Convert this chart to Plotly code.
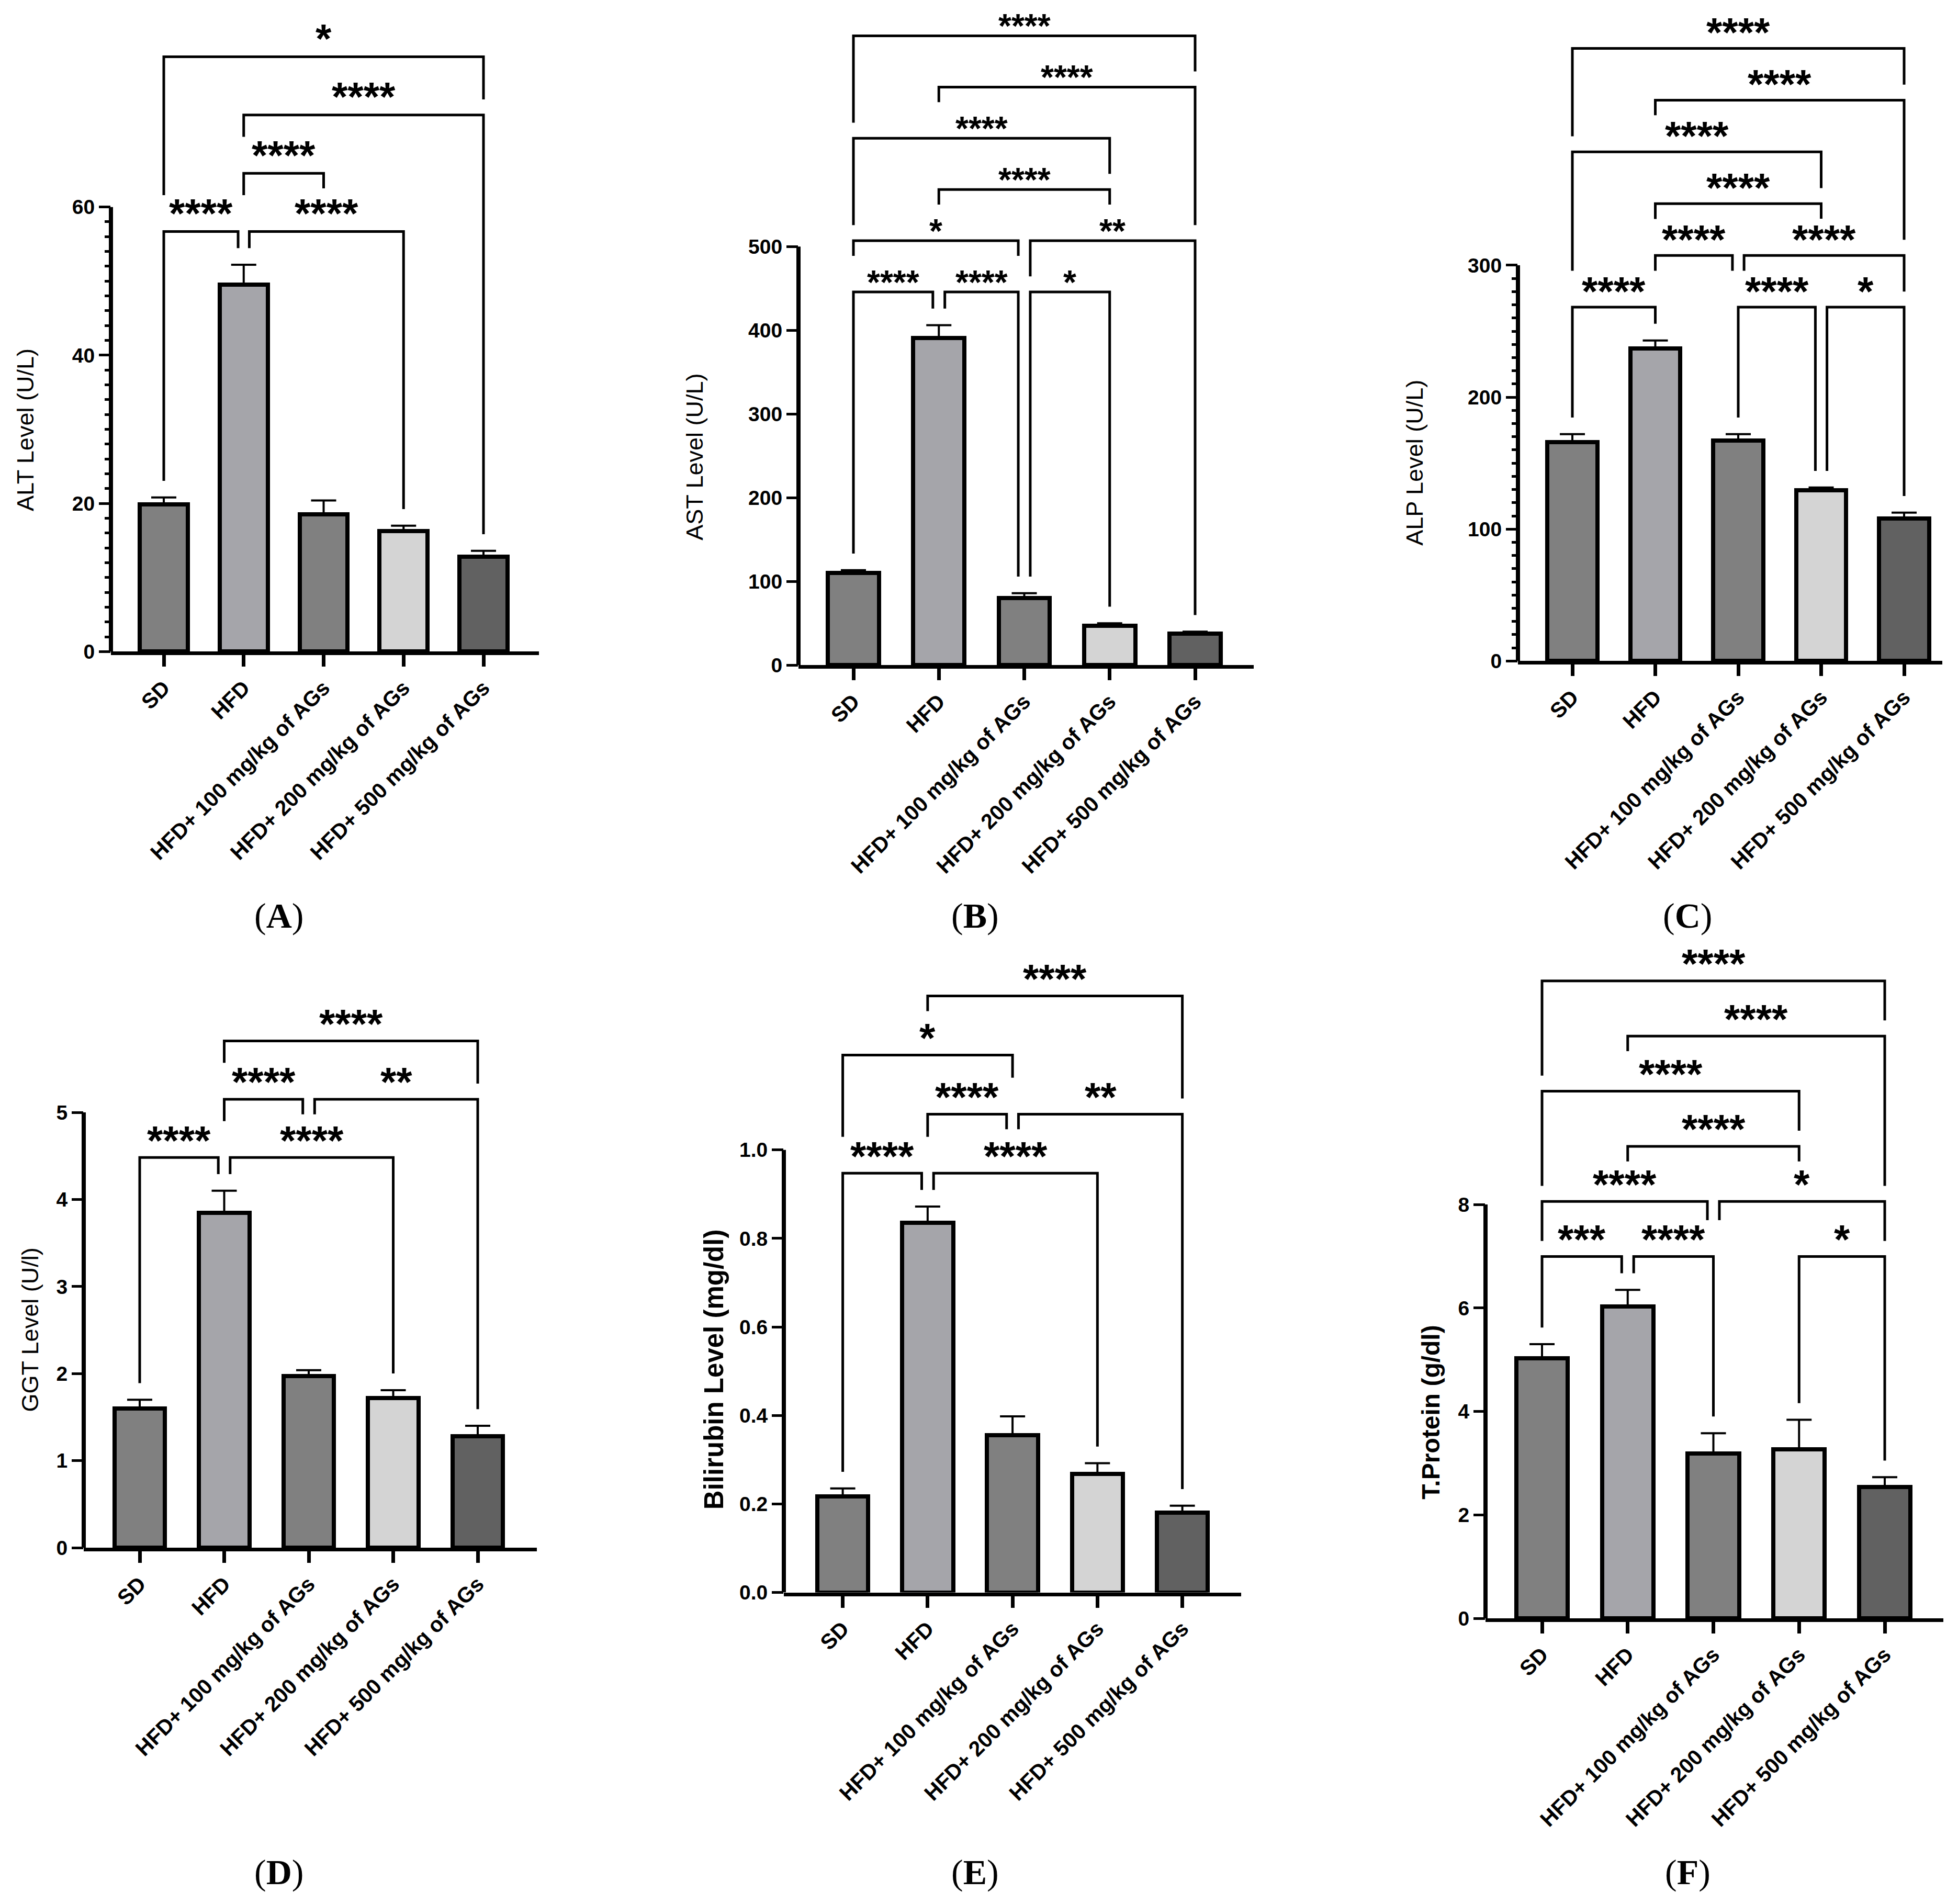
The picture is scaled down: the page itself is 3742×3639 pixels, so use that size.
import plotly.graph_objects as go

W, H = 3742, 3639

categories = ["SD", "HFD", "HFD+ 100 mg/kg of AGs", "HFD+ 200 mg/kg of AGs", "HFD+ 500 mg/kg of AGs"]
bar_colors = ["#808080", "#a5a5aa", "#808080", "#d4d4d4", "#616161"]

alt_mean = [19.9, 49.5, 18.5, 16.3, 12.8]
alt_sem = [0.9, 2.7, 1.9, 0.7, 0.8]
ast_mean = [110, 391, 80, 47, 38]
ast_sem = [3.5, 15, 6, 3, 2]
alp_mean = [166, 237, 167, 129.5, 108]
alp_sem = [6, 6, 5, 2, 4.5]
ggt_mean = [1.6, 3.85, 1.97, 1.72, 1.28]
ggt_sem = [0.1, 0.25, 0.07, 0.09, 0.12]
bil_mean = [0.217, 0.835, 0.355, 0.268, 0.18]
bil_sem = [0.018, 0.037, 0.043, 0.024, 0.016]
tp_mean = [5.03, 6.03, 3.19, 3.27, 2.54]
tp_sem = [0.27, 0.32, 0.39, 0.57, 0.19]

# significance brackets: (group a, group b, tier counted from the bottom, stars)
alt_pairs = [(0, 1, 0, "****"), (1, 3, 0, "****"), (1, 2, 1, "****"), (1, 4, 2, "****"), (0, 4, 3, "*")]
ast_pairs = [(0, 1, 0, "****"), (1, 2, 0, "****"), (2, 3, 0, "*"),
             (0, 2, 1, "*"), (2, 4, 1, "**"),
             (1, 3, 2, "****"), (0, 3, 3, "****"), (1, 4, 4, "****"), (0, 4, 5, "****")]
alp_pairs = [(0, 1, 0, "****"), (2, 3, 0, "****"), (3, 4, 0, "*"),
             (1, 2, 1, "****"), (2, 4, 1, "****"),
             (1, 3, 2, "****"), (0, 3, 3, "****"), (1, 4, 4, "****"), (0, 4, 5, "****")]
ggt_pairs = [(0, 1, 0, "****"), (1, 3, 0, "****"), (1, 2, 1, "****"), (2, 4, 1, "**"), (1, 4, 2, "****")]
bil_pairs = [(0, 1, 0, "****"), (1, 3, 0, "****"), (1, 2, 1, "****"), (2, 4, 1, "**"),
             (0, 2, 2, "*"), (1, 4, 3, "****")]
tp_pairs = [(0, 1, 0, "***"), (1, 2, 0, "****"), (3, 4, 0, "*"),
            (0, 2, 1, "****"), (2, 4, 1, "*"),
            (1, 3, 2, "****"), (0, 3, 3, "****"), (1, 4, 4, "****"), (0, 4, 5, "****")]

# frame of each panel in page pixels
panels = [
    dict(tag="A", title="ALT Level (U/L)", mean=alt_mean, sem=alt_sem, pairs=alt_pairs,
         ticks=[0, 20, 40, 60], minor=2, fmt="", left=204, right=1022, c0=305, c4=916,
         zero=1245, top=390, ceil=0, tier=112, star=78, gap=26,
         tx=40, ty=819, tsize=45, tbold=False, px=525, py=1753),
    dict(tag="B", title="AST Level (U/L)", mean=ast_mean, sem=ast_sem, pairs=ast_pairs,
         ticks=[0, 100, 200, 300, 400, 500], minor=None, fmt="", left=1518, right=2388, c0=1623, c4=2276,
         zero=1271, top=466, ceil=0, tier=98.5, star=64, gap=11,
         tx=1320, ty=871, tsize=45, tbold=False, px=1855, py=1753),
    dict(tag="C", title="ALP Level (U/L)", mean=alp_mean, sem=alp_sem, pairs=alp_pairs,
         ticks=[0, 100, 200, 300], minor=10, fmt="", left=2893, right=3704, c0=2997, c4=3631,
         zero=1263, top=502, ceil=0, tier=99.5, star=78, gap=22,
         tx=2696, ty=882, tsize=45, tbold=False, px=3217, py=1753),
    dict(tag="D", title="GGT Level (U/l)", mean=ggt_mean, sem=ggt_sem, pairs=ggt_pairs,
         ticks=[0, 1, 2, 3, 4, 5], minor=None, fmt="", left=152, right=1018, c0=259, c4=905,
         zero=2968, top=2131, ceil=1830, tier=112, star=78, gap=24,
         tx=50, ty=2549, tsize=45, tbold=False, px=525, py=3592),
    dict(tag="E", title="Bilirubin Level (mg/dl)", mean=bil_mean, sem=bil_sem, pairs=bil_pairs,
         ticks=[0, 0.2, 0.4, 0.6, 0.8, 1.0], minor=None, fmt=".1f", left=1490, right=2364, c0=1602.6, c4=2251.6,
         zero=3054, top=2203, ceil=1830, tier=113.6, star=78, gap=24,
         tx=1356, ty=2625, tsize=51, tbold=True, px=1855, py=3592),
    dict(tag="F", title="T.Protein (g/dl)", mean=tp_mean, sem=tp_sem, pairs=tp_pairs,
         ticks=[0, 2, 4, 6, 8], minor=None, fmt="", left=2831, right=3706, c0=2939, c4=3594,
         zero=3104, top=2308, ceil=1830, tier=106, star=78, gap=24,
         tx=2727, ty=2708, tsize=48, tbold=True, px=3217, py=3592),
]

SANS = "Liberation Sans, Arial, sans-serif"
SERIF = "Liberation Serif, Times New Roman, serif"

fig = go.Figure()
shapes = []
annotations = []

for k, p in enumerate(panels, start=1):
    xa = "x" if k == 1 else f"x{k}"
    ya = "y" if k == 1 else f"y{k}"
    ppu = (p["zero"] - p["top"]) / p["ticks"][-1]
    step = (p["c4"] - p["c0"]) / 4
    ymax = (p["zero"] - p["ceil"]) / ppu
    caps = [m + s for m, s in zip(p["mean"], p["sem"])]

    fig.add_trace(go.Bar(
        x=list(range(len(categories))), y=p["mean"], width=0.6,
        marker=dict(color=bar_colors, line=dict(color="black", width=8)),
        error_y=dict(type="data", array=p["sem"], arrayminus=[0] * len(p["sem"]), symmetric=False,
                     color="black", thickness=4, width=24),
        xaxis=xa, yaxis=ya, showlegend=False, hoverinfo="skip"))

    yaxis = dict(domain=[1 - p["zero"] / H, 1 - p["ceil"] / H], range=[0, ymax], anchor=xa,
                 tickmode="array", tickvals=p["ticks"], tickformat=p["fmt"],
                 ticks="outside", ticklen=22, tickwidth=5, tickcolor="black",
                 showline=False, showgrid=False, zeroline=False,
                 tickfont=dict(family=SANS, size=39, color="black", weight="bold"))
    if p["minor"]:
        mv = [v * p["minor"] for v in range(int(p["ticks"][-1] / p["minor"]) + 1)]
        yaxis["minor"] = dict(tickmode="array", tickvals=[v for v in mv if v not in p["ticks"]],
                              ticks="outside", ticklen=11, tickwidth=5, tickcolor="black", showgrid=False)
    xaxis = dict(domain=[p["left"] / W, p["right"] / W], anchor=ya,
                 range=[(p["left"] - p["c0"]) / step, (p["right"] - p["c0"]) / step],
                 tickmode="array", tickvals=list(range(len(categories))), ticktext=categories,
                 tickangle=-45, ticks="outside", ticklen=22, tickwidth=7, tickcolor="black",
                 showline=True, linewidth=7, linecolor="black", showgrid=False, zeroline=False,
                 tickfont=dict(family=SANS, size=41, color="black", weight="bold"))
    fig.update_layout(**{("xaxis" if k == 1 else f"xaxis{k}"): xaxis,
                         ("yaxis" if k == 1 else f"yaxis{k}"): yaxis})

    # y axis line stops at the top tick
    shapes.append(dict(type="line", xref=f"{xa} domain", yref=ya, x0=0, x1=0, y0=0, y1=p["ticks"][-1],
                       line=dict(color="black", width=8)))

    # brackets
    row0 = max(caps) + 64 / ppu
    items = []
    for i, j, row, label in p["pairs"]:
        items.append(dict(i=i, j=j, row=row, label=label, level=row0 + row * p["tier"] / ppu, x0=i, x1=j))
    for a in items:
        for b in items:
            if a is not b and a["row"] == b["row"]:
                if a["j"] == b["i"]:
                    a["x1"] = a["j"] - 0.07
                if a["i"] == b["j"]:
                    a["x0"] = a["i"] + 0.07

    def leg_end(col, x, level):
        short = level - 29 / ppu
        below = [b for b in items if b["level"] < level and b["i"] <= col <= b["j"]]
        if not below:
            return min(caps[col] + 32 / ppu, short)
        lvl = max(b["level"] for b in below)
        ends = [b for b in below if b["level"] == lvl and col in (b["i"], b["j"])]
        if not ends:
            return short
        gap = 30
        for b in ends:
            half = len(b["label"]) * 15 + 30
            if abs(x - (b["x0"] + b["x1"]) / 2) * step < half:
                gap = 70
        return min(lvl + gap / ppu, short)

    for b in items:
        yl = leg_end(b["i"], b["x0"], b["level"])
        yr = leg_end(b["j"], b["x1"], b["level"])
        path = f"M {b['x0']},{yl} L {b['x0']},{b['level']} L {b['x1']},{b['level']} L {b['x1']},{yr}"
        shapes.append(dict(type="path", xref=xa, yref=ya, path=path, line=dict(color="black", width=5)))
        annotations.append(dict(xref=xa, yref=ya, x=(b["x0"] + b["x1"]) / 2, y=b["level"],
                                text=b["label"], showarrow=False, xanchor="center", yanchor="bottom",
                                yshift=p["gap"] - 0.48 * p["star"],
                                font=dict(family=SANS, size=p["star"], color="black", weight="bold")))

    annotations.append(dict(xref="paper", yref="paper", x=p["tx"] / W, y=1 - p["ty"] / H,
                            text=p["title"], textangle=-90, showarrow=False,
                            xanchor="center", yanchor="middle",
                            font=dict(family=SANS, size=p["tsize"], color="black",
                                      weight="bold" if p["tbold"] else "normal")))
    annotations.append(dict(xref="paper", yref="paper", x=p["px"] / W, y=1 - p["py"] / H,
                            text=f"(<b>{p['tag']}</b>)", showarrow=False,
                            xanchor="center", yanchor="middle",
                            font=dict(family=SERIF, size=68, color="black")))

fig.update_layout(width=W, height=H, autosize=False, margin=dict(l=0, r=0, t=0, b=0),
                  paper_bgcolor="white", plot_bgcolor="white", bargap=0,
                  shapes=shapes, annotations=annotations)

fig.write_html("out.html")
